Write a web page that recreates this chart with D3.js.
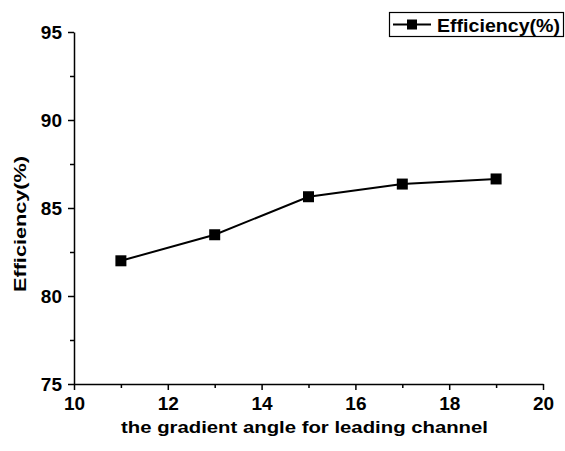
<!DOCTYPE html>
<html>
<head>
<meta charset="utf-8">
<script src="https://cdn.jsdelivr.net/npm/d3@7"></script>
<style>
  body { margin: 0; background: #fff; }
  svg text { font-family: "Liberation Sans", Arial, sans-serif; font-weight: bold; fill: #000; }
</style>
</head>
<body>
<div id="chart"></div>
<script>
// data
var angles = [11, 13, 15, 17, 19];
var efficiency = [82.0, 83.48, 85.64, 86.36, 86.65];
var xTicks = [10, 12, 14, 16, 18, 20];
var yTicks = [75, 80, 85, 90, 95];
var seriesName = "Efficiency(%)";

var width = 565, height = 451;
var svg = d3.select("#chart").append("svg")
  .attr("width", width)
  .attr("height", height);

var x = d3.scaleLinear().domain([10, 20]).range([74, 543]);
var y = d3.scaleLinear().domain([75, 95]).range([384, 32]);

// minor ticks first, then major axis on top
var xMinor = d3.range(11, 20, 2);
var yMinor = d3.range(77.5, 95, 5);

svg.append("g")
  .attr("transform", "translate(0," + y(75) + ")")
  .call(d3.axisBottom(x).tickValues(xMinor).tickSize(4).tickFormat(""))
  .call(function(g) { g.select(".domain").remove(); })
  .selectAll("line").attr("stroke-width", 1.5);

svg.append("g")
  .attr("transform", "translate(" + x(10) + ",0)")
  .call(d3.axisLeft(y).tickValues(yMinor).tickSize(4).tickFormat(""))
  .call(function(g) { g.select(".domain").remove(); })
  .selectAll("line").attr("stroke-width", 1.5);

var xAxis = svg.append("g")
  .attr("transform", "translate(0," + y(75) + ")")
  .call(d3.axisBottom(x).tickValues(xTicks).tickSize(6).tickSizeOuter(0).tickPadding(7));
xAxis.selectAll("text").style("font-size", "19px");

var yAxis = svg.append("g")
  .attr("transform", "translate(" + x(10) + ",0)")
  .call(d3.axisLeft(y).tickValues(yTicks).tickSize(6).tickSizeOuter(0).tickPadding(6));
yAxis.selectAll("text").style("font-size", "19px");

svg.selectAll(".domain, .tick line")
  .attr("stroke", "#000")
  .attr("stroke-width", 1.5);

// line + square markers
var line = d3.line()
  .x(function(d, i) { return x(angles[i]); })
  .y(function(d) { return y(d); });

svg.append("path")
  .datum(efficiency)
  .attr("d", line)
  .attr("fill", "none")
  .attr("stroke", "#000")
  .attr("stroke-width", 2);

var ms = 11;
svg.append("g").selectAll("rect")
  .data(efficiency)
  .enter().append("rect")
    .attr("x", function(d, i) { return x(angles[i]) - ms / 2; })
    .attr("y", function(d) { return y(d) - ms / 2; })
    .attr("width", ms)
    .attr("height", ms)
    .attr("fill", "#000");

// axis titles (the original font runs wide, so stretch to the measured length)
svg.append("text")
  .attr("x", 121)
  .attr("y", 433)
  .attr("textLength", 367)
  .attr("lengthAdjust", "spacingAndGlyphs")
  .style("font-size", "17px")
  .text("the gradient angle for leading channel");

svg.append("text")
  .attr("transform", "translate(26,292) rotate(-90)")
  .attr("textLength", 136)
  .attr("lengthAdjust", "spacingAndGlyphs")
  .style("font-size", "17px")
  .text("Efficiency(%)");

// legend
var legend = svg.append("g");
legend.append("rect")
  .attr("x", 389.5).attr("y", 12.5)
  .attr("width", 174).attr("height", 24)
  .attr("fill", "#fff")
  .attr("stroke", "#000")
  .attr("stroke-width", 1.2);
legend.append("line")
  .attr("x1", 393).attr("x2", 431)
  .attr("y1", 24.5).attr("y2", 24.5)
  .attr("stroke", "#000").attr("stroke-width", 2);
legend.append("rect")
  .attr("x", 407).attr("y", 19.5)
  .attr("width", 10).attr("height", 10)
  .attr("fill", "#000");
legend.append("text")
  .attr("x", 437).attr("y", 32)
  .attr("textLength", 123)
  .attr("lengthAdjust", "spacingAndGlyphs")
  .style("font-size", "18px")
  .text(seriesName);
</script>
</body>
</html>
